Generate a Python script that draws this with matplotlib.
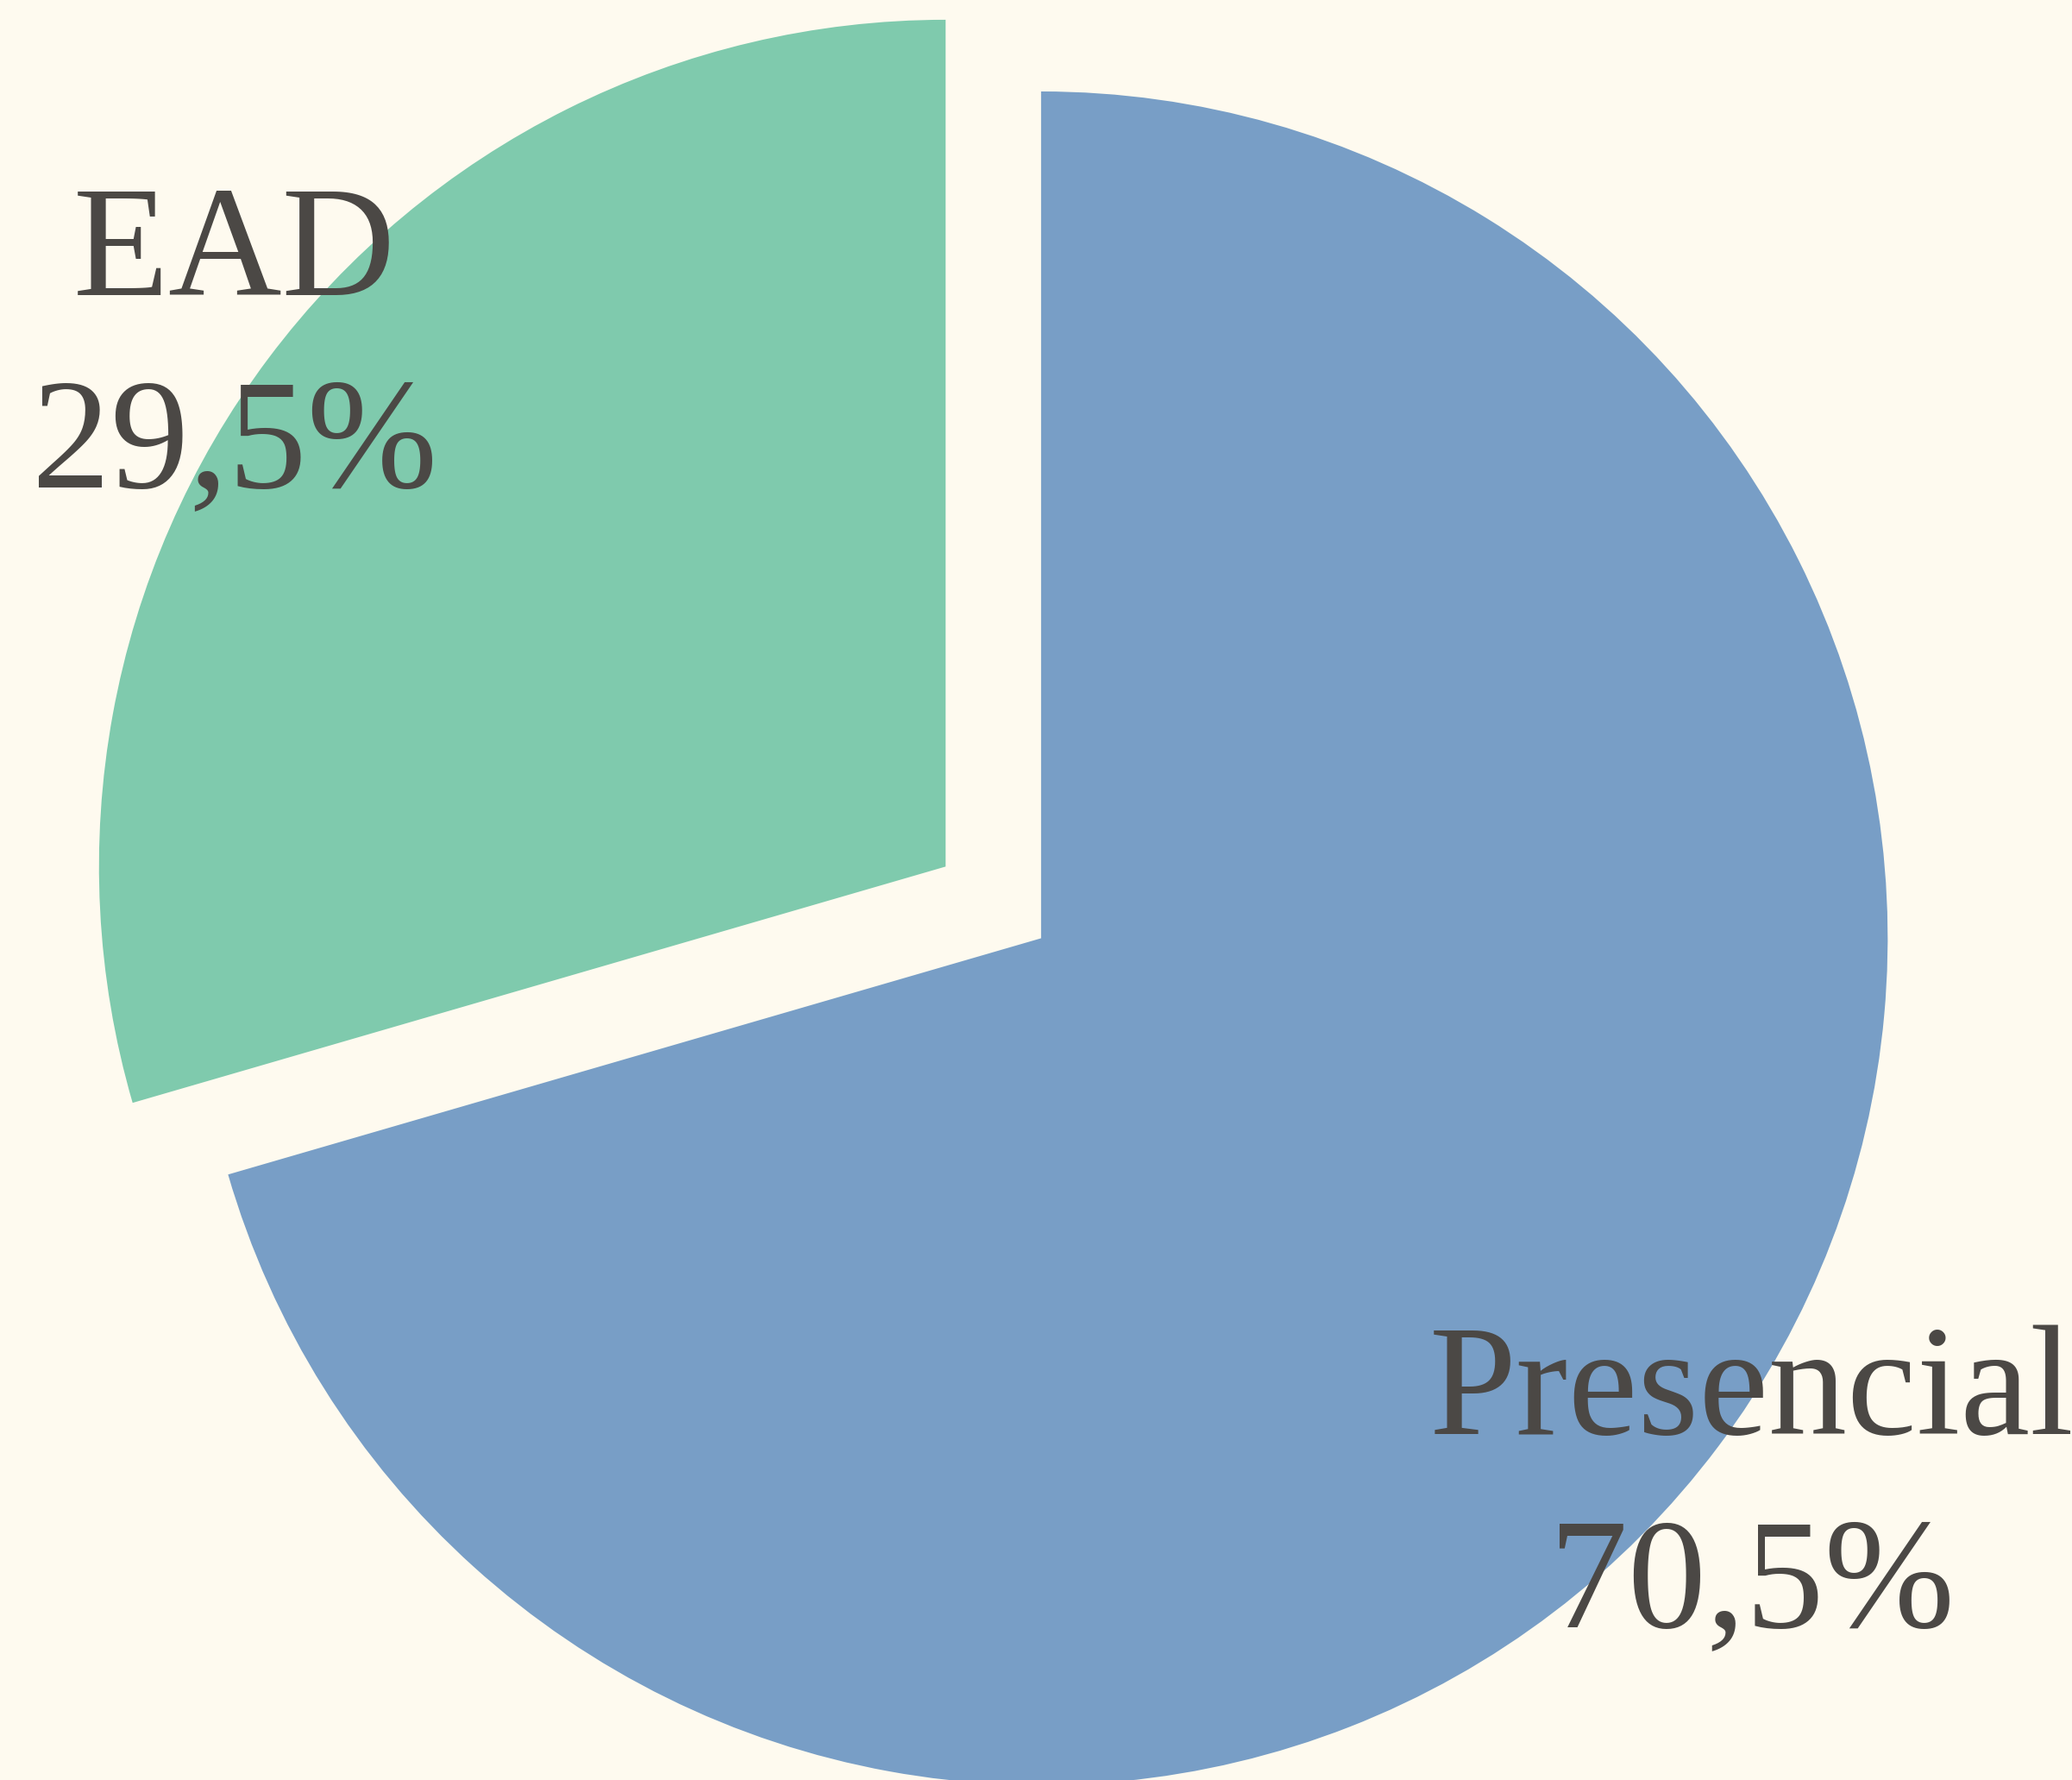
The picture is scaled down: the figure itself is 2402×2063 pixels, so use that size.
import numpy as np
import matplotlib.pyplot as plt

labels = ["Presencial", "EAD"]
shares = [70.5, 29.5]
pct_text = ["70,5%", "29,5%"]
colors = ["#789ec6", "#7fcaad"]
explode = [0.0, 0.141]

bg = "#fefaef"
ink = "#4b4845"


def main():
    fig = plt.figure(figsize=(24.02, 20.63), dpi=100, facecolor=bg)
    ax = fig.add_axes([0, 0, 1, 1])
    ax.set_facecolor(bg)

    wedges, _ = ax.pie(shares, colors=colors, explode=explode,
                       startangle=90, counterclock=False, radius=1.0,
                       wedgeprops=dict(linewidth=0))

    # label + percentage just outside each wedge, along its mid angle
    for w, name, pct, exp in zip(wedges, labels, pct_text, explode):
        mid = np.deg2rad((w.theta1 + w.theta2) / 2)
        r = 1.05 + exp
        x, y = r * np.cos(mid), r * np.sin(mid) - 0.024
        ax.text(x, y, name + "\n" + pct, ha="center", va="center",
                fontsize=131, color=ink, family="Liberation Serif",
                linespacing=1.45)

    ax.set_xlim(-1.229, 1.217)
    ax.set_ylim(-0.994, 1.108)
    ax.set_aspect("equal")
    ax.axis("off")
    fig.savefig("out.png", dpi=100, facecolor=bg)


if __name__ == "__main__":
    main()
